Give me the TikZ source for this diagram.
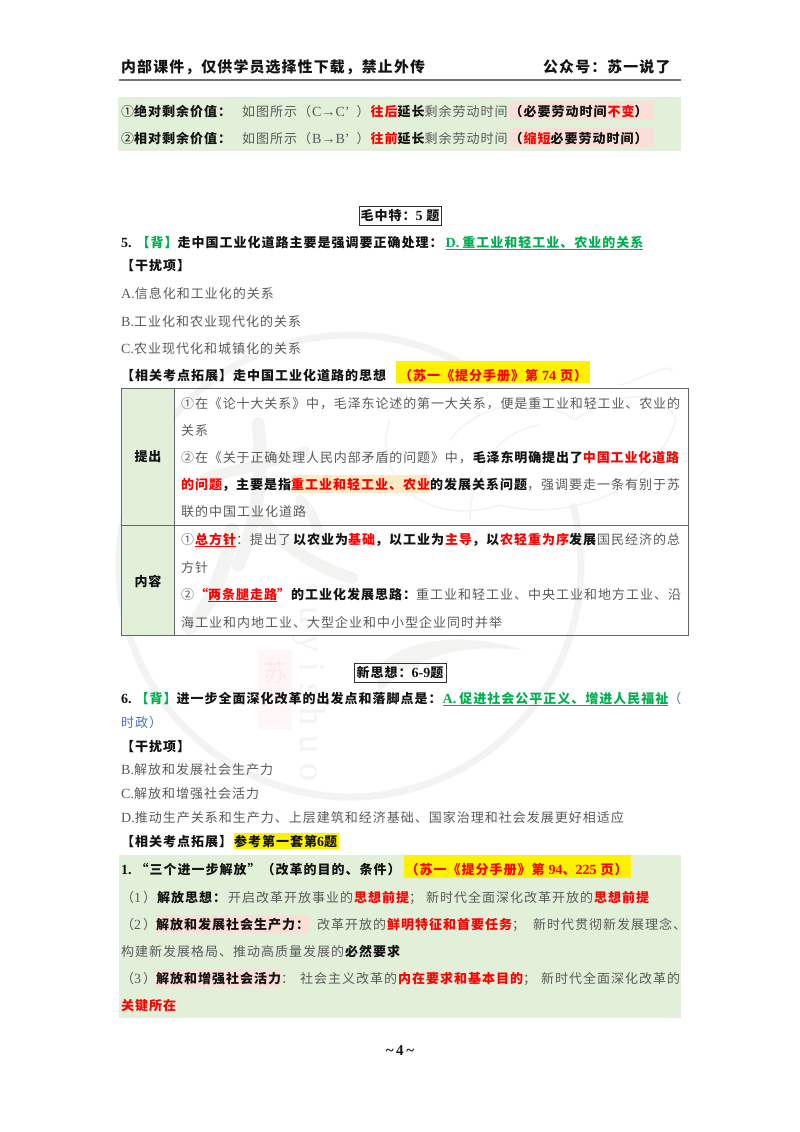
\documentclass[tikz,border=0pt]{standalone}
\usepackage{fontspec}
\setmainfont[LetterSpace=7.7]{Noto Sans CJK SC}
\newfontfamily\latfont{Liberation Serif}
\newfontfamily\markfont[LetterSpace=28]{Liberation Serif}
\definecolor{bodygray}{HTML}{5A5A5A}
\definecolor{inkblack}{HTML}{141414}
\definecolor{answergreen}{HTML}{00B050}
\definecolor{noteblue}{HTML}{4472C4}
\definecolor{paneGreen}{HTML}{E2EFD9}
\definecolor{hlpink}{HTML}{FADFD8}
\definecolor{hltan}{HTML}{FDEBC8}
\definecolor{markgray}{HTML}{F3F3F1}
\newsavebox\ulbox
\newcommand{\kb}[1]{\textbf{\textcolor{inkblack}{#1}}}
\newcommand{\rb}[1]{\textbf{\textcolor{red}{#1}}}
\newcommand{\gb}[1]{\textbf{\textcolor{answergreen}{#1}}}
\newcommand{\lat}[1]{{\latfont\fontsize{14}{15}\selectfont #1}}
\newcommand{\ulrun}[1]{\sbox\ulbox{#1}\rlap{\rule[-2.5pt]{\wd\ulbox}{1pt}}\usebox\ulbox}
\newcommand{\hlrun}[4]{{\setlength\fboxsep{0pt}\colorbox{#1}{\rule[-#3pt]{0pt}{\dimexpr#2pt+#3pt\relax}#4}}}
\newcommand{\pinkrun}[1]{\hlrun{hlpink}{15}{4}{#1}}
\newcommand{\tightrun}[1]{{\addfontfeature{LetterSpace=6.8}#1}}
\tikzset{
    txtline/.style={anchor=base west,inner sep=0pt,text=bodygray,font=\fontsize{13}{15}\selectfont},
    headline/.style={txtline,font=\fontsize{14.9}{16}\selectfont},
    sectag/.style={draw=black!80,line width=1pt,inner sep=0pt,minimum height=19pt,text=inkblack,font=\fontsize{13}{15}\selectfont\bfseries},
    celltag/.style={inner sep=0pt,text=inkblack,font=\fontsize{13}{15}\selectfont\bfseries},
    tblline/.style={draw=black!60,line width=1pt},
    wmstroke/.style={draw=markgray,line cap=round,line join=round},
}
\begin{document}
\begin{tikzpicture}[x=1pt,y=-1pt]
    \useasboundingbox (0,0) rectangle (800,1132);
    \fill[white] (0,0) rectangle (800,1132);
    % watermark
    \draw[wmstroke,line width=7] (350,566) ++(-15:231) arc[start angle=-15,end angle=300,radius=231];
    \fill[markgray] (375,672) .. controls (395,640) and (460,630) .. (523,650) .. controls (470,645) and (420,650) .. (380,692) -- cycle;
    \draw[wmstroke,line width=13] (258,424) .. controls (264,470) and (258,520) .. (238,565);
    \draw[wmstroke,line width=11] (205,478) .. controls (235,470) and (270,462) .. (305,452);
    \draw[wmstroke,line width=14] (232,530) .. controls (226,565) and (214,600) .. (190,628);
    \draw[wmstroke,line width=12] (262,520) .. controls (285,545) and (310,565) .. (352,578);
    \draw[wmstroke,line width=10] (300,500) .. controls (312,510) and (318,525) .. (320,545);
    \draw[wmstroke,line width=1.5] (390,420) .. controls (370,470) and (420,530) .. (500,505) .. controls (560,520) and (650,500) .. (676,420) .. controls (660,380) and (600,400) .. (575,420) .. controls (540,395) and (480,400) .. (450,440);
    \draw[wmstroke,line width=1.5] (470,520) .. controls (470,470) and (500,430) .. (540,425);
    \draw[wmstroke,line width=1.5] (620,385) .. controls (640,380) and (672,360) .. (672,372);
    \fill[red!3] (258,650) rectangle (292,730);
    \node (sealtext) [inner sep=0pt,text=red!9,font=\fontsize{24}{26}\selectfont] at (275,672) {苏};
    \node (wmname) [inner sep=0pt,rotate=-90,text=markgray,font=\markfont\fontsize{36}{38}\selectfont] at (309,682) {suyishuo};
    % header
    \node (hdrleft) [headline,text=inkblack] at (121,73) {\textbf{内部课件，仅供学员选择性下载，禁止外传}};
    \node (hdrright) [headline,text=inkblack] at (543,73) {\textbf{公众号：苏一说了}};
    \draw[draw=black!55,line width=1.6pt] (119,80) -- (681,80);
    % first pane
    \fill[paneGreen] (118,97) rectangle (681,151);
    \node (absline) [txtline] at (121,116) {\textcolor{inkblack}{①}\kb{绝对剩余价值：}\hspace{11pt}如图所示（\hspace{1pt}\lat{C→C’}\hspace{7pt}）\rb{往后}\kb{延长}剩余劳动时间\hspace{2pt}\pinkrun{\kb{（必要劳动时间\rb{不变}）}\hspace{6pt}}};
    \node (relline) [txtline] at (121,143) {\textcolor{inkblack}{②}\kb{相对剩余价值：}\hspace{11pt}如图所示（\hspace{1pt}\lat{B→B’}\hspace{7pt}）\rb{往前}\kb{延长}剩余劳动时间\hspace{2pt}\pinkrun{\kb{（\rb{缩短}必要劳动时间）}\hspace{6pt}}};
    % question 5
    \node (secmao) [sectag,minimum width=82pt] at (400,215.5) {毛中特：\lat{\bfseries 5} 题};
    \node (qfive) [txtline] at (121,247) {\kb{\lat{\bfseries 5.}}\hspace{5pt}\gb{【背】}\kb{走中国工业化道路主要是强调要正确处理：}\hspace{3pt}\gb{\ulrun{\lat{\bfseries D.}\hspace{3pt}重工业和轻工业、农业的关系}}};
    \node (distfive) [txtline] at (121,270) {\kb{【干扰项】}};
    \foreach \optname/\ypos/\opttxt in {a/298/{\lat{A.}信息化和工业化的关系},b/326/{\lat{B.}工业化和农业现代化的关系},c/353/{\lat{C.}农业现代化和城镇化的关系}} {
        \node (optfive\optname) [txtline] at (121,\ypos) {\opttxt};
    }
    \node (extfive) [txtline] at (121,380) {\kb{【相关考点拓展】走中国工业化道路的思想}\hspace{10pt}\hlrun{yellow}{19}{3}{\rb{\hspace{3pt}（苏一《提分手册》第 \lat{\bfseries 74} 页）\hspace{3pt}}}};
    % table
    \fill[paneGreen] (121.5,388) rectangle (174,635);
    \draw[tblline] (121.5,388) rectangle (688.5,635);
    \draw[tblline] (174,388) -- (174,635);
    \draw[tblline] (121.5,525.5) -- (688.5,525.5);
    \node (tagraise) [celltag] at (148,457) {提出};
    \node (tagbody) [celltag] at (148,581) {内容};
    \foreach \rowname/\ypos/\rowtxt in {
        one/408/{\tightrun{①在《论十大关系》中，毛泽东论述的第一大关系，便是重工业和轻工业、农业的}},
        two/435/{关系},
        three/462/{\tightrun{②在《关于正确处理人民内部矛盾的问题》中，\kb{毛泽东明确提出了}\rb{中国工业化道路}}},
        four/489/{\rb{的问题}\kb{，主要是指}\hlrun{hltan}{14}{4}{\rb{重工业和轻工业、农业}}\kb{的发展关系问题}，强调要走一条有别于苏},
        five/516/{联的中国工业化道路},
        six/544/{①\rb{\ulrun{总方针}}：提出了\hspace{1pt}\kb{以农业为}\rb{基础}\kb{，以工业为}\hspace{1pt}\rb{主导}\kb{，以}\hspace{1pt}\rb{农轻重为序}\kb{发展}\hspace{1pt}国民经济的总},
        seven/572/{方针},
        eight/599/{②\rb{“\ulrun{两条腿走路}”}\hspace{1pt}\kb{的工业化发展思路：}重工业和轻工业、中央工业和地方工业、沿},
        nine/627/{海工业和内地工业、大型企业和中小型企业同时并举}} {
        \node (row\rowname) [txtline] at (181,\ypos) {\rowtxt};
    }
    % question 6
    \node (secxin) [sectag,minimum width=92pt] at (400,673) {新思想：\lat{\bfseries 6-9}题};
    \node (qsix) [txtline] at (121,703) {\kb{\lat{\bfseries 6.}}\hspace{4pt}\gb{【背】}\kb{进一步全面深化改革的出发点和落脚点是：}\hspace{1pt}\gb{\ulrun{\lat{\bfseries A.}\hspace{3pt}促进社会公平正义、增进人民福祉}}\textcolor{noteblue}{（}};
    \node (qsixtail) [txtline,text=noteblue] at (121,727) {时政）};
    \node (distsix) [txtline] at (121,751) {\kb{【干扰项】}};
    \foreach \optname/\ypos/\opttxt in {b/774/{\lat{B.}解放和发展社会生产力},c/798/{\lat{C.}解放和增强社会活力},d/822/{\lat{D.}推动生产关系和生产力、上层建筑和经济基础、国家治理和社会发展更好相适应}} {
        \node (optsix\optname) [txtline] at (121,\ypos) {\opttxt};
    }
    \node (extsix) [txtline] at (121,846) {\kb{【相关考点拓展】}\hspace{2pt}\hlrun{yellow}{13}{3}{\kb{参考第一套第\lat{\bfseries 6}题}\hspace{2pt}}};
    % second pane
    \fill[paneGreen] (119,855) rectangle (681,1018);
    \node (libhead) [txtline] at (121,874) {\kb{\lat{\bfseries 1.}\hspace{4pt}“三个进一步解放”（改革的目的、条件）}\hspace{3pt}\hlrun{yellow}{19}{4}{\rb{\hspace{2pt}（苏一《提分手册》第 \lat{\bfseries 94}、\lat{\bfseries 225} 页）\hspace{3pt}}}};
    \node (libone) [txtline] at (121,902) {（\lat{1}\hspace{2pt}）\kb{解放思想：}\hspace{2pt}开启改革开放事业的\rb{思想前提}；\hspace{4pt}新时代全面深化改革开放的\rb{思想前提}};
    \node (libtwo) [txtline] at (121,929) {（\lat{2}\hspace{2pt}）\hlrun{hlpink}{14}{4}{\kb{解放和发展社会生产力：}}\hspace{8pt}改革开放的\rb{鲜明特征和首要任务}；\hspace{8pt}新时代贯彻新发展理念、};
    \node (libtwob) [txtline] at (121,956) {构建新发展格局、推动高质量发展的\kb{必然要求}};
    \node (libthree) [txtline] at (121,983) {（\lat{3}\hspace{2pt}）\hlrun{hlpink}{14}{4}{\kb{解放和增强社会活力}}：\hspace{6pt}社会主义改革的\rb{内在要求和基本目的}；\hspace{5pt}新时代全面深化改革的};
    \node (libthreeb) [txtline] at (121,1010) {\rb{关键所在}};
    % page number
    \node (pagenum) [inner sep=0pt,text=inkblack,font=\latfont\fontsize{15}{16}\selectfont\bfseries] at (400,1051) {\string~\,4\,\string~};
\end{tikzpicture}
\end{document}
